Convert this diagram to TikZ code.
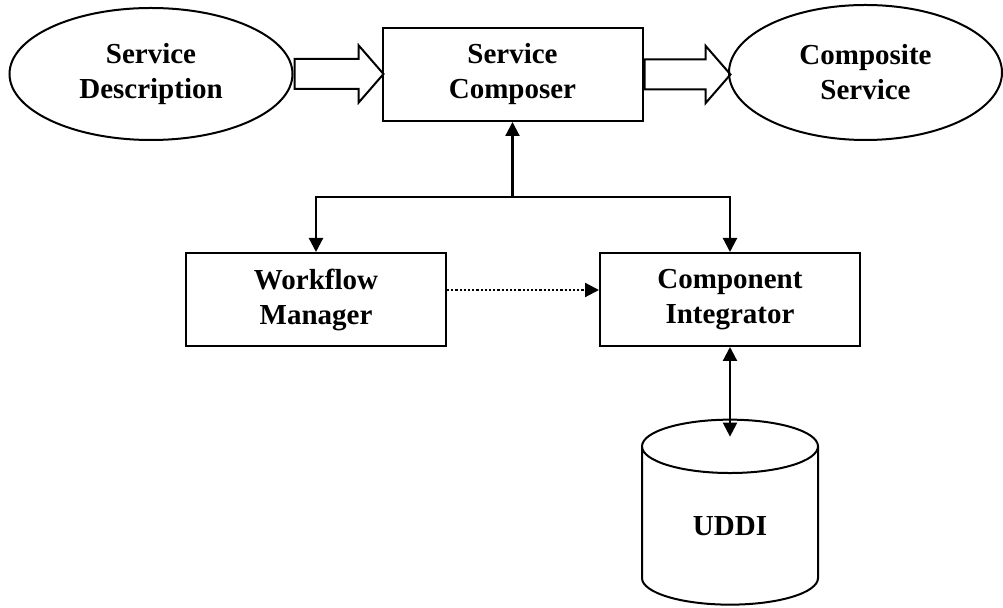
\documentclass[tikz,border=0pt]{standalone}
\usepackage{fontspec}
\setmainfont{Liberation Serif}
\usetikzlibrary{arrows.meta,shapes.geometric,shapes.arrows,positioning}
\tikzset{
  unit/.style={draw, line width=1pt, align=center, inner sep=0pt,
    font=\fontsize{14.5}{17.5}\selectfont\bfseries},
  boxnode/.style={unit, rectangle, minimum width=130pt, minimum height=46.5pt},
  ovalnode/.style={unit, ellipse},
  dbnode/.style={unit, cylinder, shape border rotate=90, aspect=0.72,
    minimum width=88pt, minimum height=92.5pt},
  fatarrow/.style={draw, line width=1pt, single arrow, anchor=tail, inner xsep=0pt,
    inner ysep=7pt, single arrow head extend=6.75pt, single arrow tip angle=98},
  tip/.tip={Triangle[length=7pt,width=7pt]},
  link/.style={line width=1.1pt, -tip}
}

\begin{document}
\begin{tikzpicture}[x=0.5pt, y=-0.5pt]
  \useasboundingbox (0,0) rectangle (1003,608);
  \node[ovalnode, minimum width=141.5pt, minimum height=66pt] (desc) at (151,74) {Service\\Description};
  \node[boxnode] (composer) at (512.5,74.5) {Service\\Composer};
  \node[ovalnode, minimum width=136.5pt, minimum height=67.5pt] (composite) at (865.5,72.5) {Composite\\Service};
  \node[boxnode] (workflow) at (316,299.5) {Workflow\\Manager};
  \node[boxnode] (integrator) at (730,299.5) {Component\\Integrator};
  \node[dbnode] (uddi) at (730,526) {UDDI};

  % hollow arrows along the top row
  \node[fatarrow, minimum height=44.5pt] (inflow) at (desc.east) {};
  \node[fatarrow, minimum height=43pt] (outflow) at (composer.east) {};

  % links
  \coordinate (hub) at (512.5,197);
  \draw[link] (hub) -- (composer);
  \draw[link] (hub) -| (workflow);
  \draw[link] (hub) -| (integrator);
  \draw[link, densely dotted] ([yshift=4.75pt]workflow.east) -- ([yshift=4.75pt]integrator.west);
  \coordinate (lid) at ([yshift=-9pt]uddi.top);
  \draw[link, tip-tip] (integrator) -- (lid);
\end{tikzpicture}
\end{document}
